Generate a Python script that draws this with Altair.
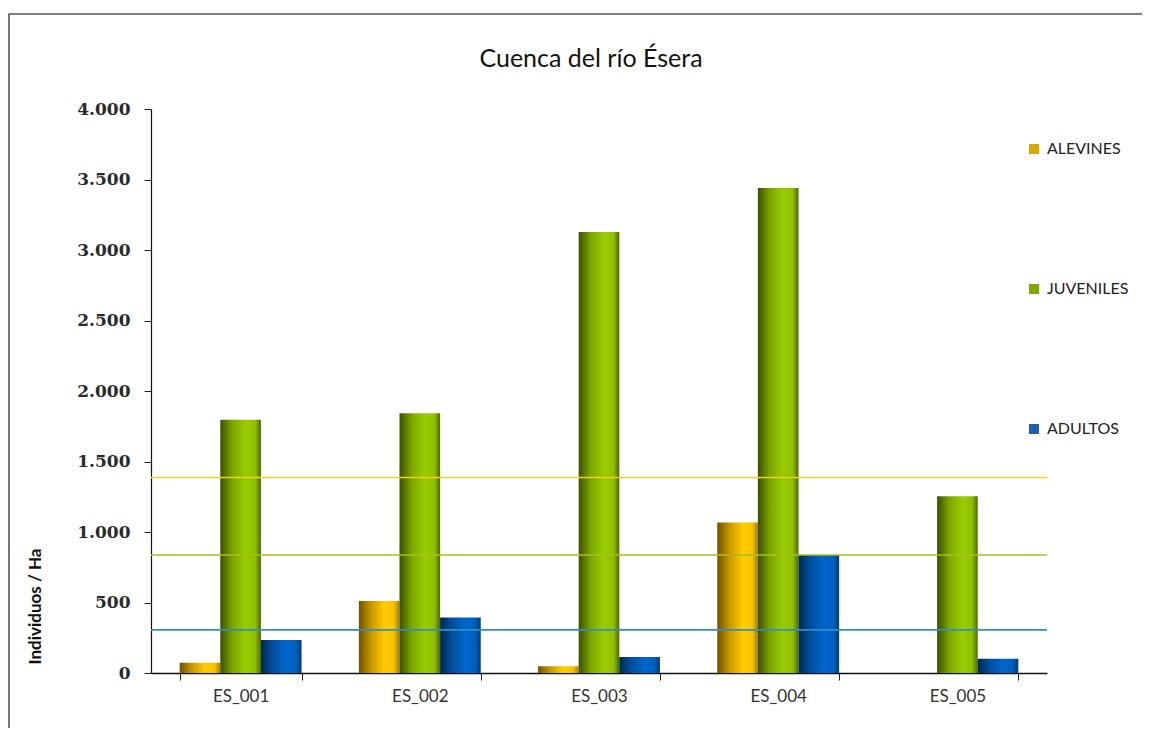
import altair as alt
import pandas as pd

# ---- data ----
titulo = ["Cuenca del río Ésera"]
estaciones = ["ES_001", "ES_002", "ES_003", "ES_004", "ES_005"]
series = ["ALEVINES", "JUVENILES", "ADULTOS"]
alevines = [72, 511, 48, 1068, 0]
juveniles = [1796, 1842, 3127, 3440, 1254]
adultos = [234, 393, 113, 837, 101]
ref_values = [1386, 837, 306]
ref_colors = ["#EFD21C", "#A9BF1E", "#2F8FC2"]
legend_colors = ["#D9A800", "#80A800", "#1F5FB0"]

rows = []
for i, e in enumerate(estaciones):
    rows.append({"estacion": e, "serie": "ALEVINES", "valor": alevines[i]})
    rows.append({"estacion": e, "serie": "JUVENILES", "valor": juveniles[i]})
    rows.append({"estacion": e, "serie": "ADULTOS", "valor": adultos[i]})
df = pd.DataFrame(rows)
ref_df = pd.DataFrame({"valor": ref_values, "color": ref_colors})
frame_df = pd.DataFrame({"k": [0]})
title_df = pd.DataFrame({"t": titulo})


def grad(stops):
    return {
        "gradient": "linear", "x1": 0, "x2": 1, "y1": 0, "y2": 0,
        "stops": [{"offset": o, "color": c} for o, c in stops],
    }


g_alev = grad([(0, "#6e5300"), (0.3, "#c79800"), (0.62, "#ffcc00"), (0.86, "#f7c500"), (1, "#a27e00")])
g_juv = grad([(0, "#3c5000"), (0.3, "#7da600"), (0.62, "#99cc00"), (0.86, "#8fc000"), (1, "#4c6800")])
g_adu = grad([(0, "#00284f"), (0.3, "#004f9e"), (0.62, "#0066cc"), (0.86, "#005fbe"), (1, "#003a78")])

x_enc = alt.X(
    "estacion:N",
    sort=estaciones,
    scale=alt.Scale(domain=estaciones, paddingInner=0.32, paddingOuter=0.16),
    axis=alt.Axis(
        title=None, labelAngle=0, tickBand="extent", tickSize=7, tickColor="#222",
        domainColor="#111", domainWidth=1.5, labelFont="Lato", labelFontSize=17,
        labelColor="#333", labelPadding=8,
    ),
)
y_enc = alt.Y(
    "valor:Q",
    scale=alt.Scale(domain=[0, 4000], nice=False),
    axis=alt.Axis(
        values=[0, 500, 1000, 1500, 2000, 2500, 3000, 3500, 4000],
        labelExpr="replace(format(datum.value, ','), ',', '.')",
        grid=False, tickSize=7, tickColor="#222", domainColor="#111", domainWidth=1.2,
        labelFont="DejaVu Serif", labelFontWeight="bold", labelFontSize=17,
        labelColor="#2a2a2a", labelPadding=14,
        title="Individuos / Ha", titleFont="Lato", titleFontWeight="bold",
        titleFontSize=17, titleColor="#111", titleAngle=-90,
        titleX=-116, titleY=497, titleAlign="center", titleBaseline="middle",
    ),
)

frame = alt.Chart(frame_df).mark_rect(
    fill="transparent", stroke="#555555", strokeWidth=1.6
).encode(
    x=alt.value(-142), x2=alt.value(1200), y=alt.value(-95), y2=alt.value(900)
)

title_layer = alt.Chart(title_df).mark_text(
    font="Lato", fontSize=25, color="#111", align="center", baseline="middle"
).encode(
    x=alt.value(440), y=alt.value(-50), text="t:N"
)

bars = alt.Chart(df).mark_bar().encode(
    x=x_enc,
    xOffset=alt.XOffset("serie:N", sort=series, scale=alt.Scale(domain=series, paddingInner=0, paddingOuter=0)),
    y=y_enc,
    color={
        "condition": [
            {"test": "datum.serie === 'ALEVINES'", "value": g_alev},
            {"test": "datum.serie === 'JUVENILES'", "value": g_juv},
        ],
        "value": g_adu,
    },
)

legend_layer = alt.Chart(df).mark_square(opacity=0).encode(
    x=alt.X("estacion:N", sort=estaciones),
    y=alt.Y("valor:Q"),
    fill=alt.Fill(
        "serie:N",
        sort=series,
        scale=alt.Scale(domain=series, range=legend_colors),
        legend=alt.Legend(
            title=None, orient="none", legendX=875, legendY=32,
            symbolType="square", symbolSize=100, symbolOpacity=1, symbolStrokeWidth=0,
            labelFont="Lato", labelFontSize=16, labelColor="#222",
            labelOffset=5, rowPadding=124, padding=0,
        ),
    ),
)

rules = alt.Chart(ref_df).mark_rule(strokeWidth=1.6).encode(
    y=alt.Y("valor:Q"),
    color=alt.Color("color:N", scale=None),
)

chart = alt.layer(frame, title_layer, bars, legend_layer, rules).properties(
    width=896,
    height=564,
    autosize=alt.AutoSizeParams(type="none"),
    padding={"left": 143, "top": 101, "right": 95, "bottom": 55},
).configure_view(stroke=None)

chart.save("out.html", embed_options={"renderer": "svg", "actions": False})
